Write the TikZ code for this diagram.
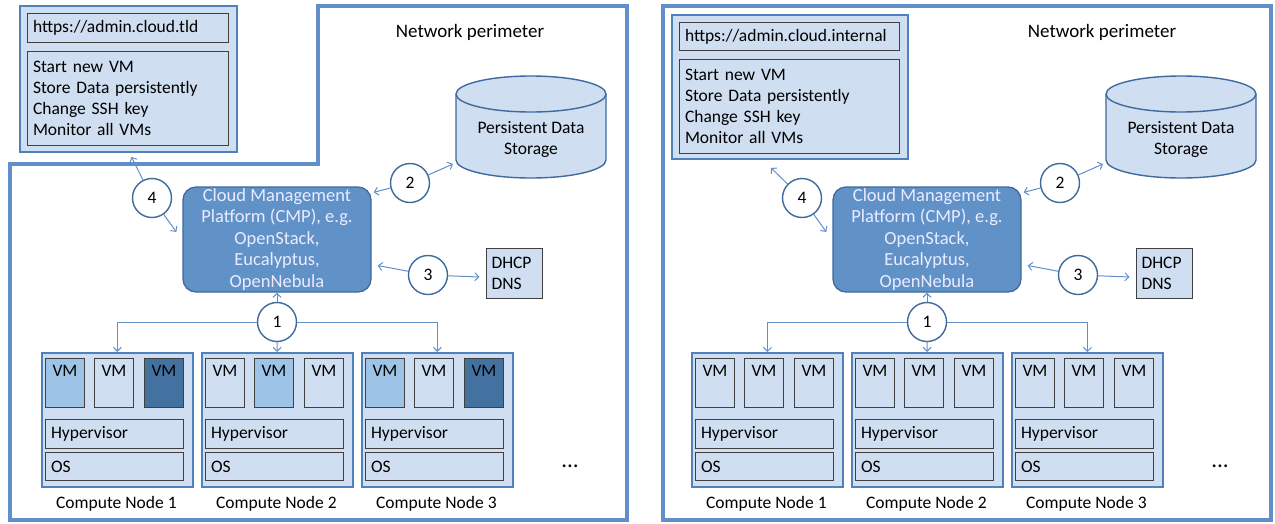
\documentclass[tikz,border=0pt]{standalone}
\usepackage{fontspec}
\setmainfont{Carlito}
\usetikzlibrary{positioning,shapes.geometric,arrows.meta,calc}

\definecolor{boxfill}{RGB}{207,222,240}
\definecolor{vmmid}{RGB}{157,195,230}
\definecolor{vmdark}{RGB}{68,114,160}
\definecolor{cmpfill}{RGB}{96,146,200}
\definecolor{edgeblue}{RGB}{79,129,189}
\definecolor{lineblue}{RGB}{98,143,201}
\definecolor{ringblue}{RGB}{62,106,158}
\definecolor{greyline}{RGB}{64,64,64}

\tikzset{
  txt/.style={font=\fontsize{17.5}{21}\selectfont},
  bigtxt/.style={font=\fontsize{19}{22}\selectfont},
  perimeter/.style={draw=lineblue, line width=4pt},
  adminbox/.style={draw=edgeblue, line width=1.8pt, fill=boxfill, inner sep=0pt, anchor=north west},
  innerbox/.style={draw=greyline, line width=1pt, fill=boxfill, txt, align=left, inner xsep=5.5, anchor=north west},
  cnode/.style={draw=edgeblue, line width=1.8pt, fill=boxfill, minimum width=151, minimum height=134, anchor=north west, inner sep=0pt},
  vmbox/.style={draw=greyline, line width=0.9pt, minimum width=39, minimum height=49, anchor=north west, inner sep=0pt,
    label={[txt, anchor=north, yshift=-4pt]north:VM}},
  layerbox/.style={innerbox, minimum width=138, text width=127},
  link/.style={draw=lineblue, line width=1pt, -{Straight Barb[length=4pt,width=8pt]}},
  numring/.style={circle, draw=ringblue, line width=1.4pt, fill=white, minimum size=39, inner sep=0pt, txt},
  cmpbox/.style={rounded corners=13pt, draw=ringblue, line width=1.3pt, fill=cmpfill, text=white!92!blue, align=center,
    minimum width=188, minimum height=105, inner sep=0pt, font=\fontsize{18.5}{21.5}\selectfont},
  storetxt/.style={txt, align=center, minimum width=150, minimum height=102},
  dhcpbox/.style={innerbox, anchor=center, minimum height=50, text width=45},
}

% one cloud set-up: #1 name prefix, #2 shift, #3 VM colours per compute node
\newcommand{\cloudpanel}[3]{
  \begin{scope}[xshift=#2pt]
    % storage drum
    \path[fill=boxfill, draw=ringblue, line width=1.4pt] (456,94) -- (456,160)
      arc[start angle=180, end angle=360, x radius=75pt, y radius=18pt] -- (606,94)
      arc[start angle=0, end angle=180, x radius=75pt, y radius=18pt] -- cycle;
    \draw[ringblue, line width=1.4pt] (456,94) arc[start angle=180, end angle=360, x radius=75pt, y radius=18pt];
    \node[storetxt] (#1stor) at (531,139) {Persistent Data\\Storage};
    \node[cmpbox] (#1cmp) at (277,239.5) {Cloud Management\\Platform (CMP), e.g.\\OpenStack,\\Eucalyptus,\\OpenNebula};
    \node[dhcpbox] (#1dhcp) at (514,273) {DHCP\\DNS};
    \node[numring] (#11) at (277,322) {1};
    \node[numring] (#12) at (410,183) {2};
    \node[numring] (#13) at (428,275) {3};
    \node[numring] (#14) at (152,198) {4};
    \foreach \n/\ca/\cb/\cc in {#3} {
      \node[cnode] (#1n\n) at ({41+160*(\n-1)},352) {};
      \node[vmbox, fill=\ca] (#1vm\n a) at ([shift={(4,6)}]#1n\n.north west) {};
      \node[vmbox, fill=\cb] (#1vm\n b) at ([shift={(53,6)}]#1n\n.north west) {};
      \node[vmbox, fill=\cc] (#1vm\n c) at ([shift={(103,6)}]#1n\n.north west) {};
      \node[layerbox, minimum height=29] (#1hv\n) at ([shift={(4,67)}]#1n\n.north west) {Hypervisor};
      \node[layerbox, minimum height=28] (#1os\n) at ([shift={(4,100)}]#1n\n.north west) {OS};
      \node[txt] (#1lab\n) at ([shift={(-1,16)}]#1n\n.south) {Compute Node \n};
    }
    \node[font=\fontsize{23}{25}\selectfont] (#1dots) at (570,466) {...};
    % links
    \draw[link] (#11) -- (#1cmp);
    \draw[link] (#11.west) -| (#1n1.north);
    \draw[link] (#11) -- (#1n2);
    \draw[link] (#11.east) -| (#1n3.north);
    \draw[link] (#12) -- ([shift={(2,6)}]#1cmp.north east);
    \draw[link] (#12) -- ([shift={(-78,25)}]#1stor.center);
    \draw[link] (#13) -- ([shift={(6,26)}]#1cmp.east);
    \draw[link] (#13) -- ([shift={(-6,4)}]#1dhcp.west);
    \draw[link] (#14) -- ([shift={(-6,-7.5)}]#1cmp.west);
  \end{scope}
}

\begin{document}
\begin{tikzpicture}[x=1pt,y=-1pt]
  \useasboundingbox (0,0) rectangle (1275,523);

  % left: admin interface reachable from outside
  \draw[perimeter] (318,6) -- (627,6) -- (627,520) -- (10,520) -- (10,164) -- (318,164) -- cycle;
  \node[bigtxt] (Lperim) at (470,32) {Network perimeter};
  \node[adminbox, minimum width=217, minimum height=146] (Ladmin) at (19,5) {};
  \node[innerbox, minimum width=201, minimum height=29, text width=190] (Lurl) at (27,13) {https://admin.cloud.tld};
  \node[innerbox, minimum width=201, minimum height=94, text width=190] (Llist) at (27,51)
    {Start new VM\\Store Data persistently\\Change SSH key\\Monitor all VMs};
  \cloudpanel{L}{0}{1/vmmid/boxfill/vmdark,2/boxfill/vmmid/boxfill,3/vmmid/boxfill/vmdark}
  \draw[link] (L4) -- ([shift={(3,4)}]Ladmin.south);

  % right: admin interface inside the perimeter
  \draw[perimeter] (663,6) rectangle (1271,520);
  \node[bigtxt] (Rperim) at (1102,32) {Network perimeter};
  \node[adminbox, minimum width=236, minimum height=144] (Radmin) at (671,14) {};
  \node[innerbox, minimum width=220, minimum height=28, text width=209] (Rurl) at (679,22) {https://admin.cloud.internal};
  \node[innerbox, minimum width=220, minimum height=94, text width=209] (Rlist) at (679,59)
    {Start new VM\\Store Data persistently\\Change SSH key\\Monitor all VMs};
  \cloudpanel{R}{650}{1/boxfill/boxfill/boxfill,2/boxfill/boxfill/boxfill,3/boxfill/boxfill/boxfill}
  \draw[link] (R4) -- ([shift={(-19,8)}]Radmin.south);
\end{tikzpicture}
\end{document}
